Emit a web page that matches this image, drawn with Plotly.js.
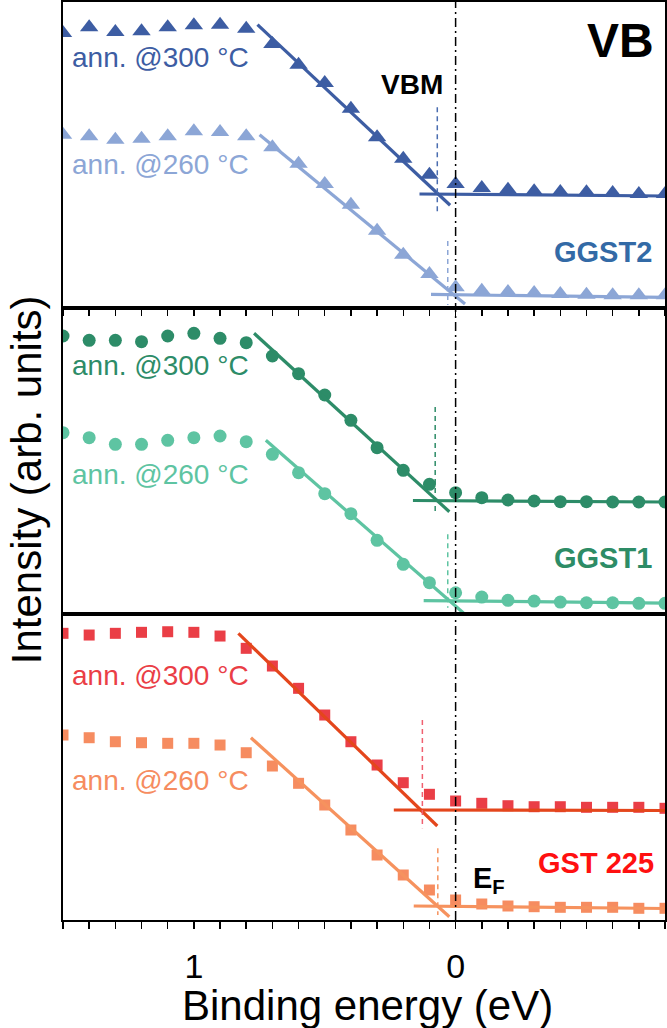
<!DOCTYPE html>
<html>
<head>
<meta charset="utf-8">
<script src="https://cdn.plot.ly/plotly-3.0.1.min.js"></script>
<style>html,body{margin:0;padding:0;background:#fff;}#chart{width:667px;height:1028px;}</style>
</head>
<body>
<div id="chart"></div>
<script>
// Binding energy grid (eV)
const energy = [1.5,1.4,1.3,1.2,1.1,1.0,0.9,0.8,0.7,0.6,0.5,0.4,0.3,0.2,0.1,0.0,-0.1,-0.2,-0.3,-0.4,-0.5,-0.6,-0.7,-0.8];

// Intensities (arb. units)
const ggst2_300 = [275,280.7,276,276.7,280.7,282.7,283.3,279.3,264,243.3,225,199.3,170.7,149.3,133.3,124,120,118.3,116.7,116,115.7,115,114,114];
const ggst2_260 = [173.3,171.7,168.3,169.3,171.7,176.7,176,171.7,160.7,144.3,124,103.3,77.3,53.3,34,20.7,17.3,16,15,14,13.3,12.7,12.7,12.7];
const ggst1_300 = [278,273.7,273.7,272.3,278,280.7,275.7,271.3,258,240.3,219,193.7,166.3,143.7,129.7,121.3,116.3,114,113,112.3,112.3,112,112,112];
const ggst1_260 = [181.3,176.3,169.7,169.7,173.7,176.3,178,172.3,159.7,141.3,120.3,100.3,73.7,49.7,31.3,21.3,17,13.7,13,12,11.3,11.3,10.7,10.7];
const gst_300  = [286.7,285,286.7,287.7,288.3,287.7,284,271.7,254,231.7,205,178.3,155,137.3,125.7,119,116.7,114.3,113.3,113.3,112.7,112.7,112.7,111.7];
const gst_260  = [185,182.3,178.3,177.3,176.7,176.7,175,167.3,154,136.7,115,90,65,45,30,20,16,14,13.3,12.7,12.7,12.7,11.7,11.7];

// Linear fits: [x0, x1], [y0, y1]
const fitEdgeX = { ggst2_300:[0.757,0.021], ggst2_260:[0.749,-0.036], ggst1_300:[0.77,0.024], ggst1_260:[0.725,-0.03], gst_300:[0.83,0.07], gst_260:[0.782,0.024] };
const fitEdgeY = { ggst2_300:[283.3,102.7], ggst2_260:[173.3,4], ggst1_300:[280.7,102.3], ggst1_260:[173.7,1], gst_300:[286.7,94], gst_260:[182.3,3.3] };
const fitBaseX = { ggst2_300:[0.138,-0.8], ggst2_260:[0.094,-0.8], ggst1_300:[0.163,-0.8], ggst1_260:[0.122,-0.8], gst_300:[0.236,-0.8], gst_260:[0.16,-0.8] };
const fitBaseY = { ggst2_300:[114,112], ggst2_260:[13.5,10.5], ggst1_300:[113.5,112], ggst1_260:[13.5,11], gst_300:[110,109.5], gst_260:[14,11.5] };

// VBM positions (eV) and marker extents
const vbmX = { ggst2_300:0.07, ggst2_260:0.03, ggst1_300:0.078, ggst1_260:0.03, gst_300:0.127, gst_260:0.068 };
const vbmY = { ggst2_300:[200.7,95], ggst2_260:[67,3], ggst1_300:[207,99.7], ggst1_260:[79.7,6.3], gst_300:[200,91.7], gst_260:[71.7,5] };

const sampleNames = ['GGST2','GGST1','GST 225'];
const seriesLabels = ['ann. @300 °C','ann. @260 °C'];
const tickVals = [1,0];
const tickText = ['1','0'];

const FONT = 'Liberation Sans, Arial, Helvetica, sans-serif';

const series = [
  {key:'ggst2_300', y:ggst2_300, ax:'', sym:'triangle-up', mc:'#3d5da3', lc:'#3d5da3', dc:'#4a6db0', size:16},
  {key:'ggst2_260', y:ggst2_260, ax:'', sym:'triangle-up', mc:'#8ca6d6', lc:'#8ca6d6', dc:'#8ca6d6', size:16},
  {key:'ggst1_300', y:ggst1_300, ax:'2', sym:'circle', mc:'#2d8c68', lc:'#2d8c68', dc:'#2d8c68', size:13},
  {key:'ggst1_260', y:ggst1_260, ax:'2', sym:'circle', mc:'#5ec4a2', lc:'#5ec4a2', dc:'#5ec4a2', size:13},
  {key:'gst_300', y:gst_300, ax:'3', sym:'square', mc:'#ea3e46', lc:'#e4461c', dc:'#f06070', size:11},
  {key:'gst_260', y:gst_260, ax:'3', sym:'square', mc:'#f68c60', lc:'#f6925e', dc:'#f6925e', size:11}
];

const traces = [];
series.forEach(s => {
  const xa = 'x' + s.ax, ya = 'y' + s.ax;
  traces.push({x:energy, y:s.y, xaxis:xa, yaxis:ya, type:'scatter', mode:'markers',
    marker:{symbol:s.sym, size:s.size, color:s.mc, line:{width:0}}, showlegend:false, hoverinfo:'skip'});
  traces.push({x:fitEdgeX[s.key], y:fitEdgeY[s.key], xaxis:xa, yaxis:ya, type:'scatter', mode:'lines',
    line:{color:s.lc, width:3.2}, showlegend:false, hoverinfo:'skip'});
  traces.push({x:fitBaseX[s.key], y:fitBaseY[s.key], xaxis:xa, yaxis:ya, type:'scatter', mode:'lines',
    line:{color:s.lc, width:3.2}, showlegend:false, hoverinfo:'skip'});
  traces.push({x:[vbmX[s.key], vbmX[s.key]], y:vbmY[s.key], xaxis:xa, yaxis:ya, type:'scatter', mode:'lines',
    line:{color:s.dc, width:1.5, dash:'5px,4px'}, showlegend:false, hoverinfo:'skip'});
});

const xBase = {range:[1.5,-0.8], autorange:false, showline:true, mirror:true, linecolor:'#000', linewidth:2,
  showgrid:false, zeroline:false, fixedrange:true};
const yBase = {range:[0,306], autorange:false, showline:true, mirror:true, linecolor:'#000', linewidth:2,
  showgrid:false, zeroline:false, showticklabels:false, ticks:'', fixedrange:true};

const layout = {
  width:667, height:1028,
  margin:{l:63, r:2, t:2, b:108},
  paper_bgcolor:'#fff', plot_bgcolor:'#fff',
  font:{family:FONT, color:'#000'},
  showlegend:false,
  xaxis: Object.assign({}, xBase, {anchor:'y', ticks:'outside', ticklen:6, tickwidth:1.5, tickcolor:'#000',
    tickmode:'array', tickvals:tickVals, showticklabels:false,
    minor:{dtick:0.1, tick0:0, ticks:'outside', ticklen:6, tickwidth:1.5, tickcolor:'#000'}}),
  yaxis: Object.assign({}, yBase, {anchor:'x', domain:[0.6667,1]}),
  xaxis2: Object.assign({}, xBase, {anchor:'y2', ticks:'', showticklabels:false}),
  yaxis2: Object.assign({}, yBase, {anchor:'x2', domain:[0.3333,0.6667]}),
  xaxis3: Object.assign({}, xBase, {anchor:'y3', ticks:'outside', ticklen:7, tickwidth:1.5, tickcolor:'#000',
    tickmode:'array', tickvals:tickVals, ticktext:tickText, showticklabels:true, ticklabelstandoff:8,
    tickfont:{family:FONT, size:34, color:'#000'},
    minor:{dtick:0.1, tick0:0, ticks:'outside', ticklen:7, tickwidth:1.5, tickcolor:'#000'}}),
  yaxis3: Object.assign({}, yBase, {anchor:'x3', domain:[0,0.3333]}),
  shapes:[
    {type:'line', xref:'x3', yref:'paper', x0:0, x1:0, y0:0, y1:1,
     line:{color:'#000', width:1.5, dash:'9px,4px,2px,4px'}}
  ],
  annotations:[
    {text:'Intensity (arb. units)', xref:'paper', yref:'paper', x:0, y:0.479, xshift:-37, textangle:-90,
     showarrow:false, xanchor:'center', yanchor:'middle', font:{family:FONT, size:42, color:'#000'}},
    {text:'Binding energy (eV)', xref:'paper', yref:'paper', x:0.505, y:-0.093,
     showarrow:false, xanchor:'center', yanchor:'middle', font:{family:FONT, size:42, color:'#000'}},
    {text:'<b>VB</b>', xref:'x', yref:'y', x:-0.765, y:268, xanchor:'right', yanchor:'middle', showarrow:false,
     font:{family:FONT, size:48, color:'#000'}},
    {text:'<b>VBM</b>', xref:'x', yref:'y', x:0.168, y:223, xanchor:'center', yanchor:'middle', showarrow:false,
     font:{family:FONT, size:28, color:'#000'}},
    {text:'<b>'+sampleNames[0]+'</b>', xref:'x', yref:'y', x:-0.757, y:56, xanchor:'right', yanchor:'middle', showarrow:false,
     font:{family:FONT, size:29, color:'#336aa6'}},
    {text:'<b>'+sampleNames[1]+'</b>', xref:'x2', yref:'y2', x:-0.757, y:56, xanchor:'right', yanchor:'middle', showarrow:false,
     font:{family:FONT, size:29, color:'#2d8c66'}},
    {text:'<b>'+sampleNames[2]+'</b>', xref:'x3', yref:'y3', x:-0.765, y:57, xanchor:'right', yanchor:'middle', showarrow:false,
     font:{family:FONT, size:29, color:'#ff1010'}},
    {text:'<b>E<sub>F</sub></b>', xref:'x3', yref:'y3', x:-0.057, y:40, xanchor:'left', yanchor:'middle', showarrow:false,
     font:{family:FONT, size:29, color:'#000'}},
    {text:seriesLabels[0], xref:'x', yref:'y', x:1.475, y:250, xanchor:'left', yanchor:'middle', showarrow:false,
     font:{family:FONT, size:28, color:'#3d5da3'}},
    {text:seriesLabels[1], xref:'x', yref:'y', x:1.475, y:143, xanchor:'left', yanchor:'middle', showarrow:false,
     font:{family:FONT, size:28, color:'#8ca6d6'}},
    {text:seriesLabels[0], xref:'x2', yref:'y2', x:1.475, y:248, xanchor:'left', yanchor:'middle', showarrow:false,
     font:{family:FONT, size:28, color:'#2d8c68'}},
    {text:seriesLabels[1], xref:'x2', yref:'y2', x:1.475, y:139, xanchor:'left', yanchor:'middle', showarrow:false,
     font:{family:FONT, size:28, color:'#5ec4a2'}},
    {text:seriesLabels[0], xref:'x3', yref:'y3', x:1.475, y:245, xanchor:'left', yanchor:'middle', showarrow:false,
     font:{family:FONT, size:28, color:'#ea3e46'}},
    {text:seriesLabels[1], xref:'x3', yref:'y3', x:1.475, y:140, xanchor:'left', yanchor:'middle', showarrow:false,
     font:{family:FONT, size:28, color:'#f68c60'}}
  ]
};

Plotly.newPlot('chart', traces, layout, {displayModeBar:false, staticPlot:true});
</script>
</body>
</html>
